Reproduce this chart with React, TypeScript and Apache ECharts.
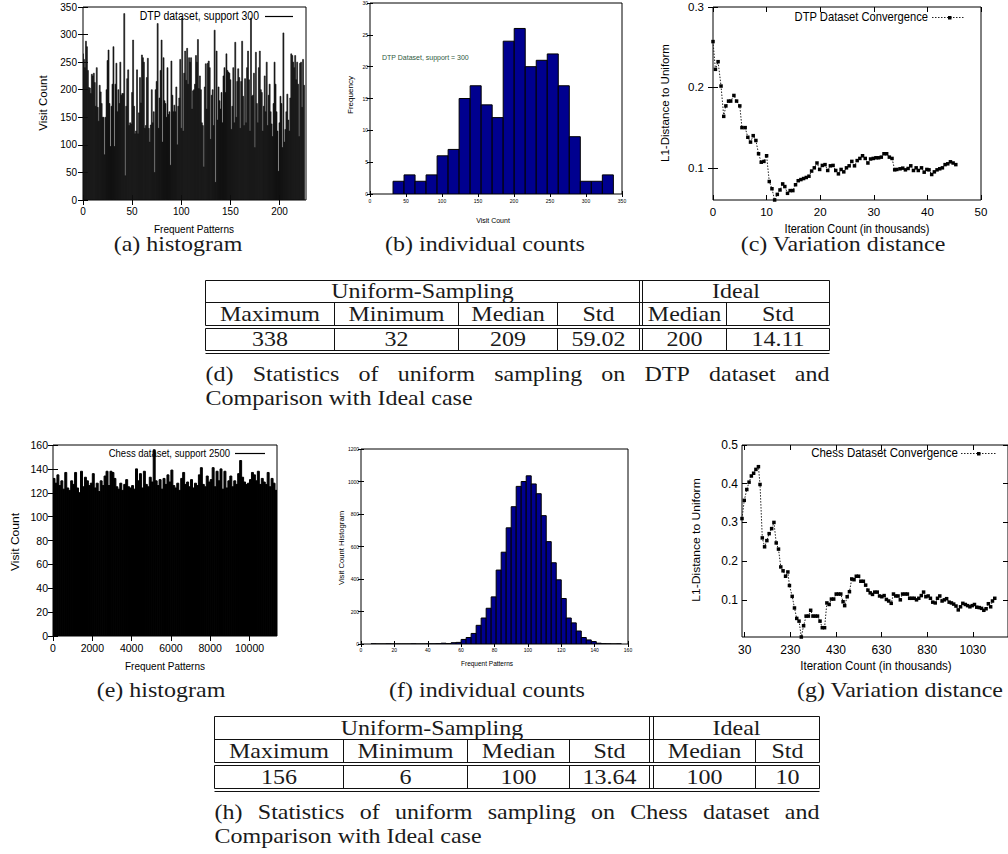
import React, { useEffect, useRef } from 'react';
import * as echarts from 'echarts';

// ---------- (a) DTP histogram: visit count of each frequent pattern ----------
const dtpVisitCounts = [
  265, 255, 240, 288, 278, 235, 204, 203, 193, 228,
  225, 230, 213, 170, 240, 168, 143, 208, 196, 175,
  150, 150, 82, 150, 200, 253, 272, 175, 97, 170,
  210, 278, 97, 210, 248, 160, 200, 175, 250, 190,
  193, 193, 338, 44, 170, 220, 236, 135, 140, 138,
  195, 290, 170, 120, 125, 236, 120, 158, 222, 176,
  263, 258, 250, 130, 135, 222, 257, 130, 105, 136,
  200, 140, 160, 50, 200, 215, 320, 130, 185, 235,
  290, 105, 258, 180, 175, 150, 240, 155, 160, 63,
  252, 190, 160, 172, 160, 205, 100, 170, 185, 255,
  130, 330, 125, 230, 270, 217, 275, 210, 258, 250,
  258, 165, 198, 200, 210, 262, 250, 291, 202, 225,
  200, 140, 135, 60, 205, 247, 165, 248, 252, 240,
  110, 190, 200, 135, 308, 32, 270, 145, 205, 180,
  165, 195, 140, 225, 240, 195, 265, 235, 232, 230,
  218, 128, 170, 240, 140, 286, 150, 215, 238, 222,
  130, 215, 288, 188, 135, 220, 140, 240, 270, 218,
  125, 330, 188, 190, 230, 95, 268, 175, 140, 240,
  270, 200, 195, 125, 170, 225, 160, 250, 135, 190,
  210, 160, 138, 115, 175, 250, 210, 160, 125, 52,
  140, 188, 175, 95, 303, 105, 128, 160, 192, 145,
  125, 185, 265, 262, 250, 240, 262, 218, 250, 210,
  115, 248, 250, 168, 255, 208,
];
const aXTicks = [0, 50, 100, 150, 200];
const aYTicks = [0, 50, 100, 150, 200, 250, 300, 350];

// ---------- (b) DTP individual counts (histogram of visit counts) ----------
const dtpHistStart = 32;
const dtpHistWidth = 15.3;
const dtpHistFreq = [2, 3, 2, 3, 6, 7, 15, 17, 14, 12, 24, 26, 20, 21, 22, 17, 9, 2, 2, 3];
const bXTicks = [0, 50, 100, 150, 200, 250, 300, 350];
const bYTicks = [0, 5, 10, 15, 20, 25, 30];

// ---------- (c) DTP convergence ----------
const dtpIterK = [
  0, 0.45, 0.95, 1.5, 2.0, 2.4, 2.9, 3.3, 3.9, 4.4,
  5.0, 5.4, 6.0, 6.5, 7.0, 7.5, 8.0, 8.5, 9.0, 9.5,
  10.0, 10.5, 11.0, 11.5, 12.0, 12.5, 13.0, 13.4, 13.9, 14.4,
  14.9, 15.4, 15.9, 16.4, 16.9, 17.4, 17.9, 18.4, 18.9, 19.4,
  19.9, 20.4, 20.9, 21.4, 21.9, 22.4, 22.9, 23.4, 23.9, 24.4,
  24.9, 25.4, 25.9, 26.4, 26.9, 27.4, 27.9, 28.4, 28.9, 29.4,
  29.9, 30.4, 30.9, 31.4, 31.9, 32.4, 32.9, 33.4, 33.9, 34.3,
  34.9, 35.4, 35.9, 36.4, 36.9, 37.4, 37.9, 38.3, 38.9, 39.4,
  39.9, 40.3, 40.8, 41.3, 41.8, 42.3, 42.8, 43.3, 43.8, 44.3,
  44.8, 45.3,
];
const dtpL1 = [
  0.257, 0.2225, 0.232, 0.2017, 0.164, 0.177, 0.183, 0.183, 0.19, 0.183,
  0.177, 0.15, 0.15, 0.138, 0.132, 0.14, 0.134, 0.1175, 0.107, 0.108,
  0.115, 0.083, 0.074, 0.06, 0.067, 0.0725, 0.08, 0.0767, 0.0683, 0.0717,
  0.0717, 0.079, 0.084, 0.0854, 0.0867, 0.088, 0.0896, 0.096, 0.1, 0.106,
  0.098, 0.103, 0.104, 0.0967, 0.1025, 0.103, 0.0967, 0.0925, 0.098, 0.095,
  0.1, 0.1025, 0.108, 0.1025, 0.109, 0.1117, 0.115, 0.1117, 0.106, 0.111,
  0.1117, 0.1125, 0.1125, 0.1133, 0.1175, 0.1175, 0.1133, 0.1117, 0.0975, 0.098,
  0.0988, 0.0996, 0.0975, 0.0992, 0.1025, 0.0967, 0.1, 0.0967, 0.1, 0.0946,
  0.098, 0.0975, 0.0917, 0.095, 0.0975, 0.0988, 0.1, 0.104, 0.105, 0.1075,
  0.106, 0.104,
];
const cXTicks = [0, 10, 20, 30, 40, 50];
const cYTicks = [0.1, 0.2, 0.3];

// ---------- (e) Chess histogram (visit counts, 100 patterns per bucket) ----------
const chessBucket = 100;
const chessVisitCounts = [
  132, 128, 135, 126, 130, 123, 137, 124, 122, 130,
  127, 137, 124, 120, 138, 125, 133, 130, 126, 128,
  136, 124, 128, 121, 130, 126, 134, 138, 126, 138,
  137, 132, 125, 123, 128, 122, 127, 131, 125, 124,
  126, 123, 140, 130, 136, 124, 138, 127, 125, 133,
  129, 156, 130, 126, 131, 123, 132, 127, 135, 129,
  139, 126, 124, 128, 122, 132, 137, 127, 129, 125,
  131, 124, 128, 126, 135, 141, 127, 125, 134, 129,
  131, 141, 125, 138, 130, 140, 123, 138, 124, 130,
  134, 125, 130, 127, 136, 147, 133, 129, 127, 128,
  131, 137, 135, 130, 138, 127, 132, 129, 127, 137,
  125, 132, 128, 122,
];
const eXTicks = [0, 2000, 4000, 6000, 8000, 10000];
const eYTicks = [0, 20, 40, 60, 80, 100, 120, 140, 160];

// ---------- (f) Chess individual counts ----------
const chessHistStart = 6;
const chessHistWidth = 3;
const chessHistCounts = [
  1, 0, 0, 1, 0, 0, 0, 0, 1, 0,
  0, 1, 1, 2, 5, 3, 8, 10, 28, 40,
  65, 115, 160, 220, 290, 455, 565, 715, 845, 970,
  1000, 1035, 985, 925, 790, 630, 500, 395, 280, 160,
  130, 80, 40, 25, 15, 5, 2, 1, 0, 1,
];
const fXTicks = [0, 20, 40, 60, 80, 100, 120, 140, 160];
const fYTicks = [0, 200, 400, 600, 800, 1000, 1200];

// ---------- (g) Chess convergence ----------
const chessIterK = [
  18, 28, 39, 49, 59, 69, 79, 90, 97, 107,
  117, 127, 137, 148, 158, 168, 178, 188, 198, 209,
  219, 226, 238, 248, 258, 268, 278, 288, 299, 309,
  319, 329, 339, 349, 360, 370, 380, 390, 400, 410,
  420, 431, 441, 451, 461, 468, 479, 489, 499, 509,
  519, 529, 539, 550, 560, 570, 580, 590, 600, 611,
  621, 631, 641, 651, 661, 672, 682, 692, 702, 712,
  722, 733, 743, 753, 763, 773, 783, 793, 804, 814,
  824, 834, 844, 854, 865, 875, 885, 895, 905, 915,
  926, 936, 946, 956, 966, 976, 986, 997, 1007, 1017,
  1027, 1037, 1047, 1058, 1068, 1078, 1088, 1098, 1108, 1116,
  1126,
];
const chessL1 = [
  0.310, 0.357, 0.385, 0.404, 0.420, 0.427, 0.437, 0.444, 0.398, 0.260,
  0.237, 0.253, 0.271, 0.284, 0.300, 0.247, 0.231, 0.185, 0.175, 0.161,
  0.172, 0.137, 0.109, 0.079, 0.052, 0.045, 0.004, 0.033, 0.058, 0.058,
  0.073, 0.058, 0.058, 0.058, 0.045, 0.028, 0.028, 0.092, 0.088, 0.102,
  0.102, 0.115, 0.115, 0.115, 0.095, 0.085, 0.108, 0.121, 0.154, 0.152,
  0.161, 0.161, 0.148, 0.148, 0.138, 0.125, 0.118, 0.114, 0.120, 0.120,
  0.110, 0.108, 0.111, 0.101, 0.097, 0.091, 0.115, 0.110, 0.110, 0.100,
  0.115, 0.115, 0.115, 0.104, 0.104, 0.104, 0.100, 0.104, 0.111, 0.120,
  0.108, 0.110, 0.104, 0.094, 0.092, 0.104, 0.110, 0.097, 0.100, 0.103,
  0.094, 0.092, 0.089, 0.084, 0.074, 0.082, 0.091, 0.088, 0.085, 0.082,
  0.085, 0.088, 0.081, 0.080, 0.078, 0.073, 0.077, 0.090, 0.082, 0.097,
  0.104,
];
const gXTicks = [30, 230, 430, 630, 830, 1030];
const gYTicks = [0.1, 0.2, 0.3, 0.4, 0.5];

// ---------- tables ----------
const groupHeaders = ['Uniform-Sampling', 'Ideal'];
const columnHeaders = ['Maximum', 'Minimum', 'Median', 'Std', 'Median', 'Std'];
const dtpStats = ['338', '32', '209', '59.02', '200', '14.11'];
const chessStats = ['156', '6', '100', '13.64', '100', '10'];

// ---------- texts ----------
const captionsTop = ['(a) histogram', '(b) individual counts', '(c) Variation distance'];
const captionsBottom = ['(e) histogram', '(f) individual counts', '(g) Variation distance'];
const captionD = ['(d) Statistics of uniform sampling on DTP dataset and', 'Comparison with Ideal case'];
const captionH = ['(h) Statistics of uniform sampling on Chess dataset and', 'Comparison with Ideal case'];

const SANS = '"Liberation Sans", Arial, sans-serif';
const SERIF = '"Liberation Serif", "Times New Roman", serif';
const SERIF_PX = 20;
const SERIF_SX = 1.2;
const NAVY = '#00008f';

let measureCtx: CanvasRenderingContext2D | null = null;
function measure(text: string, font: string): number {
  if (!measureCtx) measureCtx = document.createElement('canvas').getContext('2d');
  if (!measureCtx) return text.length * 9;
  measureCtx.font = font;
  return measureCtx.measureText(text).width;
}

function txt(text: string, x: number, y: number, o: any = {}) {
  const align = o.align || 'center';
  return {
    type: 'text',
    x, y,
    rotation: o.rot || 0,
    scaleX: o.sx || 1,
    scaleY: o.sy || 1,
    silent: true,
    z: 100,
    style: {
      text,
      font: `${o.size || 10}px ${o.family || SANS}`,
      fill: o.color || '#000',
      textAlign: align,
      textVerticalAlign: 'middle',
      align,
      verticalAlign: 'middle',
    },
  };
}

function ln(x1: number, y1: number, x2: number, y2: number, o: any = {}) {
  return {
    type: 'line',
    silent: true,
    z: 100,
    shape: { x1, y1, x2, y2 },
    style: { stroke: o.color || '#111', lineWidth: o.w || 1, lineDash: o.dash || null },
  };
}

function serifText(text: string, x: number, y: number, align = 'center') {
  return txt(text, x, y, { size: SERIF_PX, family: SERIF, sx: SERIF_SX, align, color: '#1a1a1a' });
}

function justified(line: string, left: number, right: number, y: number) {
  const font = `${SERIF_PX}px ${SERIF}`;
  const words = line.split(' ');
  const widths = words.map((w) => measure(w, font) * SERIF_SX);
  const total = widths.reduce((a, b) => a + b, 0);
  const gap = (right - left - total) / (words.length - 1);
  let x = left;
  return words.map((w, i) => {
    const el = serifText(w, x, y, 'left');
    x += widths[i] + gap;
    return el;
  });
}

function tableGraphics(cols: number[], rows: number[], values: string[], caption: string[], capY: number[]) {
  const [L, c1, c2, c3, d1, d2, c5, R] = cols;
  const [top, r1, r2a, r2b, r3a, r3b] = rows;
  const els: any[] = [];
  for (const y of [top, r1, r2a, r2b, r3a, r3b]) els.push(ln(L, y, R, y));
  for (const x of [L, d1, d2, R]) els.push(ln(x, top, x, r2a));
  for (const x of [c1, c2, c3, c5]) els.push(ln(x, r1, x, r2a));
  for (const x of [L, c1, c2, c3, d1, d2, c5, R]) els.push(ln(x, r2b, x, r3a));
  const cellMid = [(L + c1) / 2, (c1 + c2) / 2, (c2 + c3) / 2, (c3 + d1) / 2, (d2 + c5) / 2, (c5 + R) / 2];
  els.push(serifText(groupHeaders[0], (L + d1) / 2, (top + r1) / 2));
  els.push(serifText(groupHeaders[1], (d2 + R) / 2, (top + r1) / 2));
  columnHeaders.forEach((h, i) => els.push(serifText(h, cellMid[i], (r1 + r2a) / 2)));
  values.forEach((v, i) => els.push(serifText(v, cellMid[i], (r2b + r3a) / 2)));
  els.push(...justified(caption[0], L, R, capY[0]));
  els.push(serifText(caption[1], L, capY[1], 'left'));
  return els;
}

function axesFor(g: number, o: any) {
  const base = (min: number, max: number) => ({
    type: 'value', gridIndex: g, min, max,
    splitLine: { show: false }, axisLine: { show: false },
  });
  const tick = (vals: number[]) => ({
    show: true, inside: true, length: o.tickLen, customValues: vals,
    lineStyle: { color: '#000', width: 1 },
  });
  const label = (vals: number[], margin: number) => ({
    show: true, customValues: vals, fontSize: o.fontSize, fontFamily: SANS, color: '#000', margin,
    formatter: (v: number) => String(v),
  });
  const xs = [
    { ...base(o.xMin, o.xMax), position: 'bottom', axisTick: tick(o.xTicks), axisLabel: label(o.xTicks, o.xMargin) },
    { ...base(o.xMin, o.xMax), position: 'top', axisTick: tick(o.xTicks), axisLabel: { show: false } },
  ];
  const ys = [
    { ...base(o.yMin, o.yMax), position: 'left', axisTick: tick(o.yTicks), axisLabel: label(o.yTicks, o.yMargin) },
    { ...base(o.yMin, o.yMax), position: 'right', axisTick: tick(o.yTicks), axisLabel: { show: false } },
  ];
  return { xs, ys };
}

function rectRender(fill: string, stroke: string | null, lw: number) {
  return (params: any, api: any) => {
    const x0 = api.value(0);
    const x1 = api.value(1);
    const v = api.value(2);
    const p0 = api.coord([x0, 0]);
    const p1 = api.coord([x1, v]);
    return {
      type: 'rect',
      shape: { x: p0[0], y: p1[1], width: p1[0] - p0[0], height: p0[1] - p1[1] },
      style: { fill, stroke: stroke || fill, lineWidth: lw },
    };
  };
}

function buildOption() {
  const grids = [
    { left: 83, top: 7, width: 223, height: 193 },
    { left: 370, top: 3, width: 252, height: 191 },
    { left: 713, top: 7, width: 268, height: 193 },
    { left: 53, top: 445, width: 224, height: 191 },
    { left: 361, top: 449, width: 267, height: 195 },
    { left: 742, top: 445, width: 268, height: 192 },
  ].map((g) => ({ ...g, show: true, borderColor: '#000', borderWidth: 1, backgroundColor: 'transparent' }));

  const axCfg = [
    { xMin: 0, xMax: 227, xTicks: aXTicks, yMin: 0, yMax: 350, yTicks: aYTicks, fontSize: 10, tickLen: 5, xMargin: 6, yMargin: 6 },
    { xMin: 0, xMax: 350, xTicks: bXTicks, yMin: 0, yMax: 30, yTicks: bYTicks, fontSize: 5, tickLen: 3, xMargin: 4, yMargin: 2 },
    { xMin: 0, xMax: 50, xTicks: cXTicks, yMin: 0.06, yMax: 0.3, yTicks: cYTicks, fontSize: 11.5, tickLen: 5, xMargin: 6, yMargin: 9 },
    { xMin: 0, xMax: 11400, xTicks: eXTicks, yMin: 0, yMax: 160, yTicks: eYTicks, fontSize: 10.5, tickLen: 5, xMargin: 6, yMargin: 5 },
    { xMin: 0, xMax: 160, xTicks: fXTicks, yMin: 0, yMax: 1200, yTicks: fYTicks, fontSize: 5, tickLen: 3, xMargin: 3, yMargin: 2 },
    { xMin: 18, xMax: 1184, xTicks: gXTicks, yMin: 0.004, yMax: 0.5, yTicks: gYTicks, fontSize: 12, tickLen: 5, xMargin: 7, yMargin: 4 },
  ];
  const xAxis: any[] = [];
  const yAxis: any[] = [];
  axCfg.forEach((c, g) => {
    const { xs, ys } = axesFor(g, c);
    xAxis.push(...xs);
    yAxis.push(...ys);
  });

  const aData = dtpVisitCounts.map((v, i) => [i - 0.5, i + 0.5, v]);
  const bData = dtpHistFreq.map((v, k) => [dtpHistStart + k * dtpHistWidth, dtpHistStart + (k + 1) * dtpHistWidth, v]);
  const eData = chessVisitCounts.map((v, k) => [k * chessBucket, (k + 1) * chessBucket, v]);
  const fData = chessHistCounts.map((v, k) => [chessHistStart + k * chessHistWidth, chessHistStart + (k + 1) * chessHistWidth, v]);
  const cData = dtpIterK.map((x, i) => [x, dtpL1[i]]);
  const gData = chessIterK.map((x, i) => [x, chessL1[i]]);

  const custom = (g: number, data: any[], render: any) => ({
    type: 'custom', xAxisIndex: 2 * g, yAxisIndex: 2 * g, data, renderItem: render,
    encode: { x: [0, 1], y: 2 }, silent: true, clip: true,
  });
  const conv = (g: number, data: any[]) => ({
    type: 'line', xAxisIndex: 2 * g, yAxisIndex: 2 * g, data,
    symbol: 'rect', symbolSize: 3.5, showSymbol: true, silent: true,
    itemStyle: { color: '#000' },
    lineStyle: { color: '#222', width: 1, type: [1.5, 1.5] },
  });

  const series = [
    custom(0, aData, rectRender('#111', '#111', 0.6)),
    custom(1, bData, rectRender(NAVY, '#000', 1)),
    conv(2, cData),
    custom(3, eData, rectRender('#000', '#000', 1)),
    custom(4, fData, rectRender(NAVY, '#000', 1)),
    conv(5, gData),
  ];

  const graphic: any[] = [];
  // legends / annotations
  graphic.push(txt('DTP dataset, support 300', 259, 16, { size: 10.5, align: 'right', sy: 1.15 }));
  graphic.push(ln(265, 16.5, 293, 16.5, { color: '#000', w: 1.2 }));
  graphic.push(txt('DTP Dataset, support = 300', 382, 57, { size: 7, align: 'left', color: '#2f5a40', sy: 1.15 }));
  graphic.push(txt('DTP Dataset Convergence', 928, 17, { size: 11.2, align: 'right', sy: 1.15 }));
  graphic.push(ln(932, 17.5, 965, 17.5, { color: '#222', dash: [1.5, 1.5] }));
  graphic.push({ type: 'rect', silent: true, z: 100, shape: { x: 948, y: 16, width: 3.5, height: 3.5 }, style: { fill: '#000' } });
  graphic.push(txt('Chess dataset, support 2500', 230, 453, { size: 9.5, align: 'right', sy: 1.15 }));
  graphic.push(ln(235, 453.5, 265, 453.5, { color: '#000', w: 1.2 }));
  graphic.push(txt('Chess Dataset Convergence', 958, 453, { size: 11.5, align: 'right', sy: 1.15 }));
  graphic.push(ln(961, 453.5, 996, 453.5, { color: '#222', dash: [1.5, 1.5] }));
  graphic.push({ type: 'rect', silent: true, z: 100, shape: { x: 977, y: 452, width: 3.5, height: 3.5 }, style: { fill: '#000' } });

  // axis titles
  const R90 = Math.PI / 2;
  graphic.push(txt('Visit Count', 43, 103, { size: 10, rot: R90, sx: 1.15 }));
  graphic.push(txt('Frequent Patterns', 194, 229, { size: 10, sy: 1.15 }));
  graphic.push(txt('Frequency', 351, 95, { size: 7, rot: R90, sx: 1.15 }));
  graphic.push(txt('Visit Count', 493, 220, { size: 7, sy: 1.15 }));
  graphic.push(txt('L1-Distance to Uniform', 665, 103, { size: 11, rot: R90, sx: 1.05 }));
  graphic.push(txt('Iteration Count (in thousands)', 857, 229, { size: 11, sy: 1.15 }));
  graphic.push(txt('Visit Count', 15, 542, { size: 10.5, rot: R90, sx: 1.15 }));
  graphic.push(txt('Frequent Patterns', 165, 666, { size: 10, sy: 1.15 }));
  graphic.push(txt('Visit Count Histogram', 342, 548, { size: 7, rot: R90, sx: 1.1 }));
  graphic.push(txt('Frequent Patterns', 487, 663, { size: 6.5, sy: 1.15 }));
  graphic.push(txt('L1-Distance to Uniform', 696, 540, { size: 11.5, rot: R90, sx: 1.05 }));
  graphic.push(txt('Iteration Count (in thousands)', 876, 666, { size: 11.5, sy: 1.15 }));

  // captions
  [178, 485, 843].forEach((x, i) => graphic.push(serifText(captionsTop[i], x, 244)));
  [161, 487, 900].forEach((x, i) => graphic.push(serifText(captionsBottom[i], x, 690)));

  // tables
  graphic.push(...tableGraphics(
    [205.5, 334.5, 458.5, 557.5, 639.5, 642.5, 726.5, 829.5],
    [280.5, 302.5, 325.5, 328.5, 350.5, 353.5],
    dtpStats, captionD, [374, 398],
  ));
  graphic.push(...tableGraphics(
    [214.5, 343.5, 467.5, 569.5, 649.5, 653.5, 755.5, 819.5],
    [716.5, 739.5, 762.5, 765.5, 788.5, 791.5],
    chessStats, captionH, [812, 836],
  ));

  return {
    animation: false,
    backgroundColor: '#fff',
    textStyle: { fontFamily: SANS },
    grid: grids,
    xAxis,
    yAxis,
    series,
    graphic: { elements: graphic },
  };
}

export default function App() {
  const ref = useRef<HTMLDivElement>(null);
  useEffect(() => {
    if (!ref.current) return;
    const chart = echarts.init(ref.current, undefined, { renderer: 'svg' });
    chart.setOption(buildOption() as any);
    return () => chart.dispose();
  }, []);
  return (
    <div
      ref={ref}
      style={{ position: 'fixed', left: 0, top: 0, width: 1008, height: 854, background: '#fff' }}
    />
  );
}
